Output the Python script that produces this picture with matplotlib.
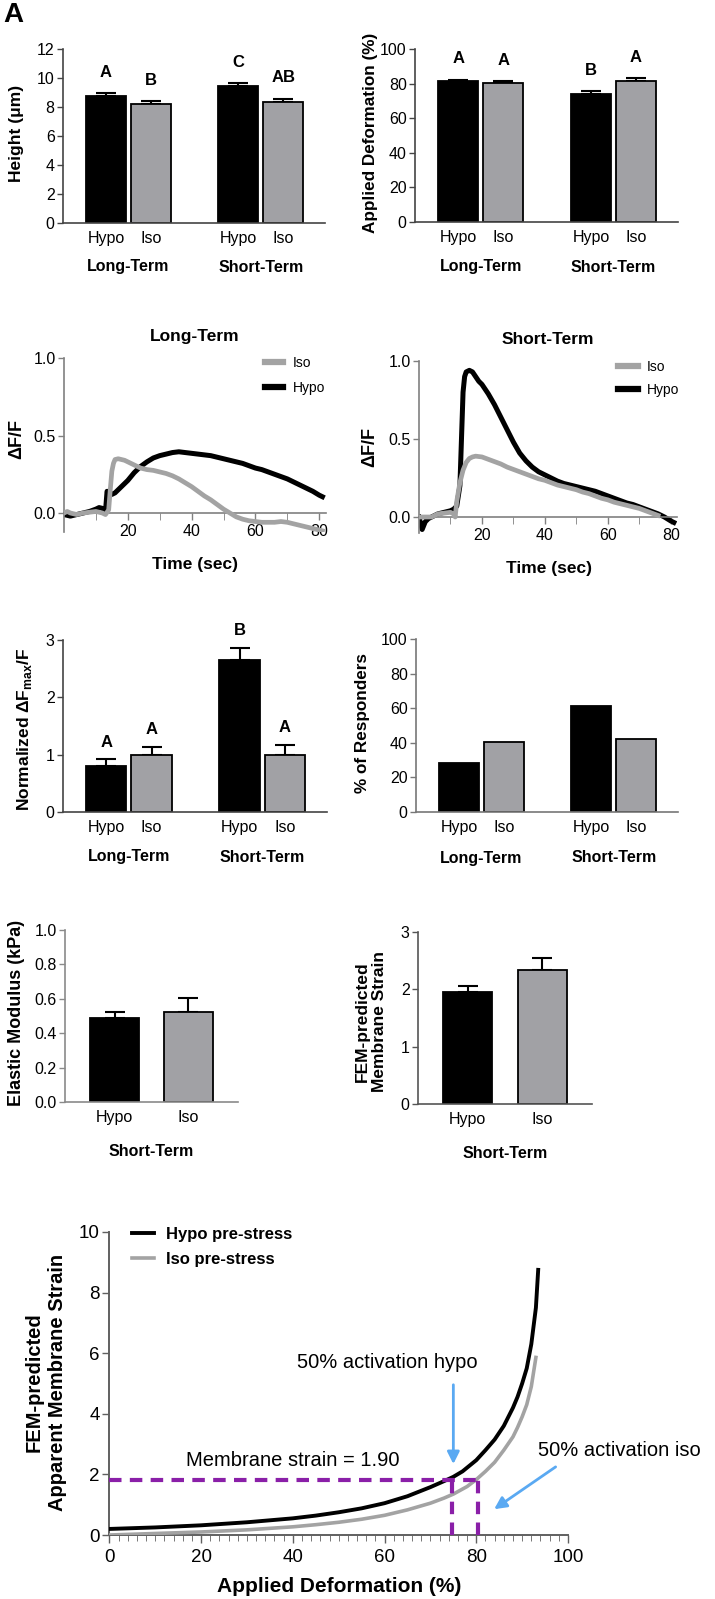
import matplotlib
matplotlib.use('Agg')
import matplotlib.pyplot as plt
import numpy as np
from matplotlib.ticker import MultipleLocator, FixedLocator, FormatStrFormatter
from matplotlib.transforms import blended_transform_factory
from matplotlib.lines import Line2D

W, H = 715, 1599
plt.rcParams['font.family'] = ['Liberation Sans', 'DejaVu Sans']
plt.rcParams['mathtext.fontset'] = 'custom'
plt.rcParams['mathtext.rm'] = 'Liberation Sans'
plt.rcParams['mathtext.bf'] = 'Liberation Sans:bold'

# ---------------- data ----------------
groups = ['Long-Term', 'Short-Term']
conds = ['Hypo', 'Iso', 'Hypo', 'Iso']

height_mean = [8.78, 8.20, 9.47, 8.32]
height_err = [0.16, 0.19, 0.19, 0.25]
height_sig = ['A', 'B', 'C', 'AB']

deform_mean = [81.3, 80.5, 74.0, 81.7]
deform_err = [1.0, 1.0, 1.7, 1.3]
deform_sig = ['A', 'A', 'B', 'A']

dfmax_mean = [0.81, 0.995, 2.65, 1.0]
dfmax_err = [0.11, 0.145, 0.21, 0.17]
dfmax_sig = ['A', 'A', 'B', 'A']

resp_pct = [28.1, 40.3, 61.4, 42.0]

st_conds = ['Hypo', 'Iso']
modulus_mean = [0.487, 0.525]
modulus_err = [0.038, 0.078]
strain_mean = [1.96, 2.34]
strain_err = [0.10, 0.20]

# calcium traces (time s, dF/F)
lt_hypo_t = [0, 2, 4, 6, 8, 10, 11, 12, 13, 13.5, 14, 15, 16, 18, 20, 22, 24, 26, 28, 30, 32, 34, 36, 38,
             40, 42, 44, 46, 48, 50, 52, 54, 56, 58, 60, 62, 64, 66, 68, 70, 72, 74, 76, 78, 80, 81]
lt_hypo_v = [-0.01, -0.02, -0.01, 0.0, 0.01, 0.025, 0.035, 0.03, 0.01, 0.14, 0.12, 0.12, 0.13, 0.17, 0.21,
             0.26, 0.30, 0.33, 0.355, 0.37, 0.38, 0.39, 0.395, 0.39, 0.385, 0.38, 0.375, 0.37, 0.36, 0.35,
             0.34, 0.33, 0.32, 0.305, 0.29, 0.28, 0.265, 0.25, 0.235, 0.22, 0.20, 0.18, 0.16, 0.14, 0.115, 0.105]
lt_iso_t = [0, 1, 2, 4, 6, 8, 10, 12, 13, 14, 14.5, 15, 15.5, 16, 17, 18, 19, 20, 22, 24, 26, 28, 30, 32,
            34, 36, 38, 40, 42, 44, 46, 48, 50, 52, 54, 56, 58, 60, 62, 64, 66, 68, 70, 72, 74, 76, 78, 80, 81]
lt_iso_v = [0.0, 0.01, 0.0, -0.01, 0.0, 0.005, 0.01, 0.0, -0.01, 0.02, 0.15, 0.27, 0.32, 0.345, 0.35,
            0.345, 0.34, 0.33, 0.31, 0.29, 0.28, 0.275, 0.265, 0.255, 0.24, 0.22, 0.195, 0.17, 0.14, 0.11,
            0.085, 0.055, 0.025, 0.0, -0.025, -0.04, -0.05, -0.055, -0.06, -0.06, -0.06, -0.055, -0.06,
            -0.07, -0.08, -0.09, -0.10, -0.11, -0.115]
st_hypo_t = [0, 0.5, 1, 2, 3, 4, 5, 6, 8, 10, 11, 12, 13, 13.5, 14, 14.5, 15, 16, 17, 18, 19, 20, 22, 24,
             26, 28, 30, 32, 34, 36, 38, 40, 42, 44, 46, 48, 50, 52, 54, 56, 58, 60, 62, 64, 66, 68, 70,
             72, 74, 76, 78, 80, 81]
st_hypo_v = [0.0, -0.04, -0.08, -0.03, -0.01, 0.0, 0.01, 0.02, 0.03, 0.04, 0.05, 0.07, 0.2, 0.5, 0.8,
             0.9, 0.93, 0.94, 0.93, 0.9, 0.87, 0.85, 0.79, 0.72, 0.64, 0.56, 0.48, 0.41, 0.36, 0.32, 0.29,
             0.27, 0.25, 0.23, 0.215, 0.205, 0.195, 0.185, 0.175, 0.165, 0.15, 0.135, 0.12, 0.105, 0.09,
             0.08, 0.065, 0.05, 0.035, 0.02, 0.0, -0.025, -0.035]
st_iso_t = [0, 2, 4, 5, 6, 8, 10, 11, 11.5, 12, 13, 14, 15, 16, 17, 18, 20, 22, 24, 26, 28, 30, 32, 34,
            36, 38, 40, 42, 44, 46, 48, 50, 52, 54, 56, 58, 60, 62, 64, 66, 68, 70, 72, 74, 76]
st_iso_v = [0.0, 0.0, 0.0, 0.01, 0.02, 0.025, 0.03, 0.02, 0.0, 0.1, 0.22, 0.30, 0.35, 0.375, 0.385, 0.39,
            0.385, 0.37, 0.355, 0.34, 0.32, 0.305, 0.29, 0.275, 0.26, 0.245, 0.235, 0.22, 0.205, 0.195,
            0.185, 0.175, 0.16, 0.15, 0.135, 0.12, 0.11, 0.095, 0.085, 0.075, 0.065, 0.055, 0.04, 0.025, 0.01]

# FEM curves (applied deformation %, apparent membrane strain)
fem_hypo_x = [0, 10, 20, 30, 40, 45, 50, 55, 60, 65, 70, 73, 75, 77, 80, 82, 84, 86, 88, 89, 90, 91, 92,
              93, 93.5]
fem_hypo_y = [0.2, 0.25, 0.32, 0.42, 0.55, 0.64, 0.75, 0.88, 1.05, 1.28, 1.58, 1.78, 1.92, 2.1, 2.47,
              2.8, 3.15, 3.6, 4.2, 4.56, 5.0, 5.5, 6.3, 7.5, 8.75]
fem_iso_x = [0, 10, 20, 30, 40, 45, 50, 55, 60, 65, 70, 73, 75, 78, 80, 82, 84, 86, 88, 89, 90, 91, 92, 93]
fem_iso_y = [0.0, 0.05, 0.1, 0.17, 0.27, 0.34, 0.42, 0.52, 0.65, 0.83, 1.05, 1.22, 1.35, 1.6, 1.83, 2.1,
             2.4, 2.8, 3.24, 3.55, 3.9, 4.3, 4.9, 5.86]
act50_hypo = 74.7
act50_iso = 80.3
strain_line = 1.83

GRAY = '#a1a1a5'
TRACE_GRAY = '#a3a3a3'
BLUE = '#5aa9f2'
PURPLE = '#8a1fa8'

fig = plt.figure(figsize=(W / 100, H / 100), dpi=100)


def add_ax(l, t, r, b):
    return fig.add_axes([l / W, 1 - b / H, (r - l) / W, (b - t) / H])


def ftext(x, y, s, **kw):
    kw.setdefault('ha', 'center')
    kw.setdefault('va', 'center')
    return fig.text(x / W, 1 - y / H, s, **kw)


def style(ax, color, lw=1.2):
    for s in ['top', 'right']:
        ax.spines[s].set_visible(False)
    for s in ['left', 'bottom']:
        ax.spines[s].set_color(color)
        ax.spines[s].set_linewidth(lw)
    ax.tick_params(colors=color, labelcolor='black', width=1.0)


def bar_panel(ax, pos, means, errs, ymax, ystep, xlim, width, labels, color, sig=None, sigoff=0.12,
              yfmt=None):
    cols = ['black' if c == 'Hypo' else GRAY for c in labels]
    ax.bar(pos, means, width=width, color=cols, edgecolor='black', linewidth=1.3, zorder=2)
    if errs is not None:
        ax.errorbar(pos, means, yerr=[np.zeros(len(means)), errs], fmt='none', ecolor='black',
                    elinewidth=1.5, capsize=7.5, capthick=1.5, zorder=1)
    ax.set_xlim(*xlim)
    ax.set_ylim(0, ymax)
    ax.yaxis.set_major_locator(MultipleLocator(ystep))
    if yfmt:
        ax.yaxis.set_major_formatter(FormatStrFormatter(yfmt))
    ax.set_xticks(pos)
    ax.set_xticklabels(labels)
    style(ax, color)
    ax.tick_params(axis='x', length=0, pad=6, labelsize=11.5)
    ax.tick_params(axis='y', length=4, pad=2, labelsize=11.5, direction='out')
    if sig is not None:
        for p, m, e, s in zip(pos, means, errs, sig):
            ax.text(p, m + e + sigoff * ymax, s, ha='center', va='center', fontsize=12,
                    fontweight='bold', clip_on=False)


def group_labels(ax, centers, y_px, names, size=11.5):
    tr = blended_transform_factory(ax.transData, fig.transFigure)
    for c, n in zip(centers, names):
        ax.text(c, 1 - y_px / H, n, transform=tr, ha='center', va='center', fontsize=size,
                fontweight='bold')


pos4 = np.array([0, 1, 2.94, 3.94])
xl4 = (-0.956, 4.87)
gcent = [0.5, 3.44]

# ---- A: Height
axA = add_ax(63, 49, 325, 223)
bar_panel(axA, pos4, height_mean, height_err, 12, 2, xl4, 0.89, conds, '#444444', sig=height_sig)
group_labels(axA, gcent, 267, groups)
ftext(17, 133, 'Height (μm)', rotation=90, fontsize=12.5, fontweight='bold')

# ---- B: Applied deformation
axB = add_ax(415, 49, 678, 222)
bar_panel(axB, pos4, deform_mean, deform_err, 100, 20, xl4, 0.89, conds, '#444444', sig=deform_sig)
group_labels(axB, gcent, 267, groups)
ftext(370, 133, 'Applied Deformation (%)', rotation=90, fontsize=12.3, fontweight='bold')


# ---- C, D: traces
def trace_panel(ax, t_iso, v_iso, t_hypo, v_hypo, ylo, title, leg_anchor, hl, htp, ls):
    ax.plot(t_hypo, v_hypo, color='black', lw=3.6, solid_joinstyle='round', label='Hypo', zorder=2)
    ax.plot(t_iso, v_iso, color=TRACE_GRAY, lw=3.4, solid_joinstyle='round', label='Iso', zorder=3)
    ax.set_xlim(0, 82)
    ax.set_ylim(ylo, 1.0)
    style(ax, '#808080')
    ax.spines['bottom'].set_position(('data', 0))
    ax.xaxis.set_major_locator(FixedLocator([20, 40, 60, 80]))
    ax.xaxis.set_minor_locator(FixedLocator([10, 30, 50, 70]))
    ax.yaxis.set_major_locator(FixedLocator([0, 0.5, 1.0]))
    ax.yaxis.set_major_formatter(FormatStrFormatter('%.1f'))
    ax.tick_params(axis='x', which='both', length=5, direction='out', pad=3, labelsize=11.5,
                   color='#808080')
    ax.tick_params(axis='y', length=4, pad=2, labelsize=11.5)
    ax.set_title(title, fontsize=12.5, fontweight='bold', pad=12)
    handles = [Line2D([], [], color=TRACE_GRAY, lw=4.5), Line2D([], [], color='black', lw=4.5)]
    ax.legend(handles, ['Iso', 'Hypo'], loc='upper left', bbox_to_anchor=leg_anchor,
              bbox_transform=fig.transFigure, frameon=False, fontsize=10, borderpad=0,
              borderaxespad=0, handlelength=hl, handletextpad=htp, labelspacing=ls)


axC = add_ax(64, 358, 325.6, 531.6)
trace_panel(axC, lt_iso_t, lt_iso_v, lt_hypo_t, lt_hypo_v, -0.12, 'Long-Term',
            (265 / W, 1 - 356 / H), 1.3, 0.7, 0.8)
ftext(17, 439, 'ΔF/F', rotation=90, fontsize=13, fontweight='bold')
ftext(195, 565, 'Time (sec)', fontsize=12.5, fontweight='bold')

axD = add_ax(419, 361, 677, 532.6)
trace_panel(axD, st_iso_t, st_iso_v, st_hypo_t, st_hypo_v, -0.10, 'Short-Term',
            (618 / W, 1 - 360 / H), 1.45, 0.65, 0.65)
ftext(370, 447, 'ΔF/F', rotation=90, fontsize=13, fontweight='bold')
ftext(549, 568, 'Time (sec)', fontsize=12.5, fontweight='bold')

# ---- E: normalized dFmax/F
axE = add_ax(63, 640, 327, 812)
bar_panel(axE, pos4, dfmax_mean, dfmax_err, 3, 1, xl4, 0.89, conds, '#444444', sig=dfmax_sig,
          sigoff=0.1)
group_labels(axE, gcent, 857, groups)
ftext(25, 729, r'Normalized ΔF$_{\mathregular{max}}$/F', rotation=90, fontsize=12.5,
      fontweight='bold')

# ---- F: % responders
axF = add_ax(416, 639, 678, 812)
bar_panel(axF, pos4, resp_pct, None, 100, 20, xl4, 0.89, conds, '#777777')
group_labels(axF, gcent, 858, groups)
ftext(362, 723, '% of Responders', rotation=90, fontsize=12.3, fontweight='bold')

# ---- G: elastic modulus
pos2 = np.array([0, 1])
xl2 = (-0.67, 1.67)
axG = add_ax(65, 930, 238, 1102)
bar_panel(axG, pos2, modulus_mean, modulus_err, 1.0, 0.2, xl2, 0.66, st_conds, '#8a8a8a',
          yfmt='%.1f')
group_labels(axG, [0.5], 1152, ['Short-Term'])
ftext(17, 1013, 'Elastic Modulus (kPa)', rotation=90, fontsize=13, fontweight='bold')

# ---- H: FEM membrane strain
axH = add_ax(418, 932, 592, 1104)
bar_panel(axH, pos2, strain_mean, strain_err, 3, 1, xl2, 0.66, st_conds, '#555555')
group_labels(axH, [0.5], 1154, ['Short-Term'])
ftext(371, 1022, 'FEM-predicted\nMembrane Strain', rotation=90, fontsize=12.5, fontweight='bold',
      linespacing=1.15)

# ---- I: FEM curves
axI = add_ax(109.4, 1232, 568, 1535)
lh, = axI.plot(fem_hypo_x, fem_hypo_y, color='black', lw=2.8, label='Hypo pre-stress', zorder=3)
li, = axI.plot(fem_iso_x, fem_iso_y, color=TRACE_GRAY, lw=2.6, label='Iso pre-stress', zorder=3)
axI.plot([0, act50_iso], [strain_line, strain_line], color=PURPLE, lw=3, dashes=(3, 2), zorder=4,
         clip_on=False)
axI.plot([act50_hypo, act50_hypo], [0, strain_line], color=PURPLE, lw=3, dashes=(3, 2), zorder=4)
axI.plot([act50_iso, act50_iso], [0, strain_line], color=PURPLE, lw=3, dashes=(3, 2), zorder=4)
axI.set_xlim(0, 100)
axI.set_ylim(0, 10)
style(axI, '#606060', lw=1.4)
axI.xaxis.set_major_locator(MultipleLocator(20))
axI.xaxis.set_minor_locator(MultipleLocator(2))
axI.yaxis.set_major_locator(MultipleLocator(2))
axI.tick_params(axis='x', which='major', length=6, pad=4, labelsize=13.5, direction='out')
axI.tick_params(axis='x', which='minor', length=4, direction='out', color='#606060')
axI.tick_params(axis='y', length=5, pad=2, labelsize=13.5, direction='out')
axI.legend([lh, li], ['Hypo pre-stress', 'Iso pre-stress'], loc='upper left',
           bbox_to_anchor=(132 / W, 1 - 1227 / H), bbox_transform=fig.transFigure, frameon=False,
           prop={'size': 12, 'weight': 'bold'}, borderpad=0, borderaxespad=0, handlelength=1.3,
           handletextpad=0.75, labelspacing=0.6)
axI.annotate('', xy=(act50_hypo + 0.3, 2.25), xytext=(act50_hypo + 0.3, 5.05),
             arrowprops=dict(arrowstyle='-|>', color=BLUE, lw=2, mutation_scale=18))
axI.annotate('', xy=(83.4, 0.8), xytext=(97.8, 2.3),
             arrowprops=dict(arrowstyle='-|>', color=BLUE, lw=2, mutation_scale=18),
             annotation_clip=False)
axI.text(60.5, 5.68, '50% activation hypo', ha='center', va='center', fontsize=14.5)
axI.text(40, 2.47, 'Membrane strain = 1.90', ha='center', va='center', fontsize=14.5)
axI.text(93.5, 2.8, '50% activation iso', ha='left', va='center', fontsize=14.5, clip_on=False)
ftext(46, 1382, 'FEM-predicted\nApparent Membrane Strain', rotation=90, fontsize=14.5,
      fontweight='bold', linespacing=1.25)
ftext(339, 1587, 'Applied Deformation (%)', fontsize=15, fontweight='bold')

# panel letter mark (top-left corner)
ftext(3, 2, 'A', ha='left', va='top', fontsize=20, fontweight='bold')

fig.savefig('out.png', dpi=100)
